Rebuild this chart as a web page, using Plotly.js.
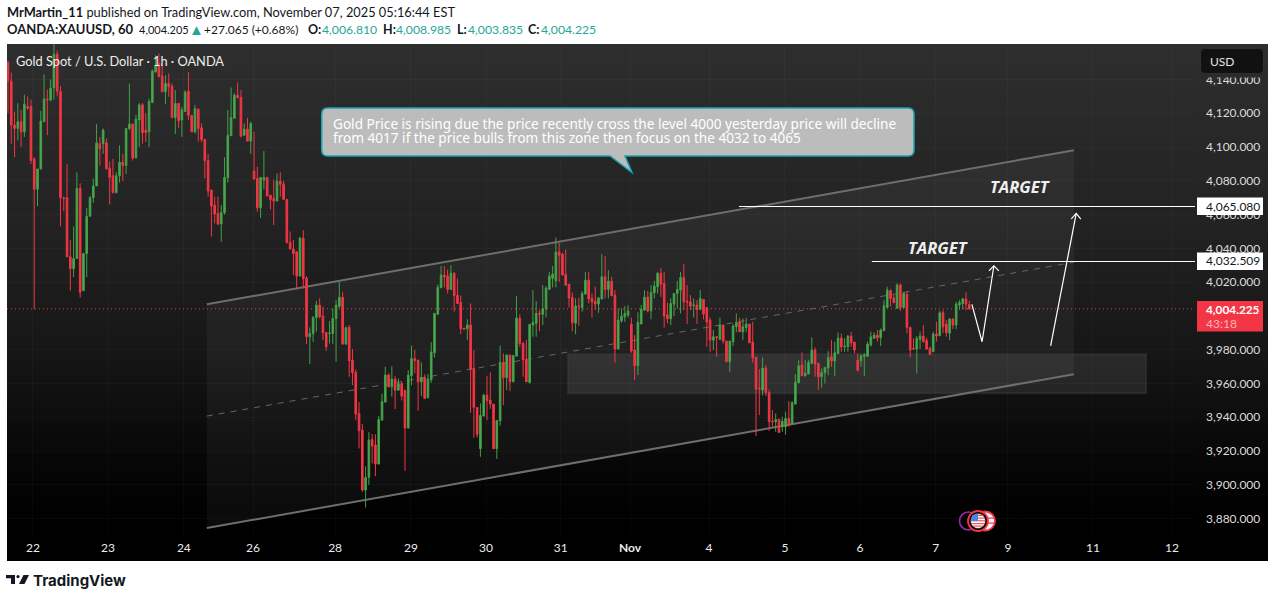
<!DOCTYPE html>
<html>
<head>
<meta charset="utf-8">
<script src="https://cdn.plot.ly/plotly-3.0.1.min.js"></script>
<style>
html,body{margin:0;padding:0;background:#fff;width:1275px;height:599px;overflow:hidden}
#panel{position:absolute;left:7px;top:44px;width:1261px;height:517px;background:linear-gradient(#2e2e2e 0%,#222 35%,#161616 60%,#070707 80%,#000 92%)}
#chart{position:absolute;left:0;top:0;width:1275px;height:599px}
</style>
</head>
<body>
<div id="panel"></div>
<div id="chart"></div>
<script>
const opens=[
4150,4139,4113,4111,4115,4109,4124,4124,4093,4075,
4087,4115,4128.4,4128,4135,4155,4133,4070,4070,4035,
4028,4034,4075.5,4015,4037,4059,4070,4077,4102,4102,
4102.5,4087.5,4083,4073,4083,4091,4089,4111,4113.6,4093.5,
4116,4125,4110,4109,4126.4,4144.5,4149.5,4142,4132.7,4137.6,
4136,4117.5,4125.8,4116,4121,4133,4118.7,4109,4122.4,4111.4,
4104.5,4092,4074.5,4065.6,4060.7,4054.4,4061.1,4081.8,4106.7,4117,
4130.7,4129.4,4107,4110.6,4103.5,4085.8,4081.4,4064,4080.4,4082,
4071.5,4069.6,4068,4079.8,4078,4069,4043.5,4039.6,4038,4023.6,
4046,4022.4,3987.7,3989.6,3999,4006.4,4000,3990.2,3989.6,3989.6,
3998.5,4005.8,4011,3983.3,3993.2,3973.9,3966.6,3942.3,3932.4,3896.9,
3904.4,3926.9,3923.6,3912.3,3938.3,3949,3965,3958,3962.6,3956,
3960,3956,3933.6,3964.6,3974.8,3973.9,3961,3963.6,3951.6,3962.2,
3978.2,4001,4016.7,4024.2,4023.6,4015.7,4025.2,4012.3,4008,3992.8,
3992.4,3994.6,3968.9,3945.8,3921.4,3940.7,3953.1,3950.2,3947.8,3921.4,
3937.9,3972.5,3963.4,3976.8,3961,3976.2,3998.7,3983.7,3974.2,3960.6,
3994.6,3995.6,4001.5,4001,4004.2,4015.7,4022.2,4020.8,4037.8,4036.6,
4024.6,4018.8,4011,3995.6,4005.8,4005,4012.9,4021.2,4010.4,4008.8,
4007,4010,4023.2,4015.7,4020.6,4012.3,3980.4,3997.1,3999.5,4000.5,
3995.2,3979.8,3970.5,3995.2,4003.4,4011.1,4003,4013.7,4017.3,4025.2,
4019.2,4000.5,3998.3,4007,4013.3,4015.3,4022.8,4008.6,4008.4,4006,
4006.4,4003.8,4009.8,4005,3997.5,3985.7,3987.7,3986.1,3994.6,3985.1,
3972.9,3984.7,3993.6,3996.5,3990.6,3993.2,3995.2,3984.5,3975.6,3957.3,
3956.1,3969.1,3954.7,3937.7,3937.3,3938.7,3934.4,3934.4,3939.3,3936,
3947.8,3960.4,3970.9,3964.6,3965.6,3971.9,3979.8,3971.9,3964,3966.4,
3969.1,3975.8,3973.3,3977.8,3986.9,3981.7,3981.7,3988,3984.5,3973.9,
3973.5,3976,3976,3982.8,3986.7,3988.7,3987.1,3991.2,4005,4015,
4010.8,4004.5,4018.3,4005,4012.8,3993.2,3980.8,3980.4,3986.1,3988.1,
3985.4,3980.8,3978.8,3989.3,3988.3,4001.9,3995.2,3989.7,3998.2,3994.6,
4006.5,4007.4,4010,4006.81];
const highs=[
4151,4144,4121,4126,4122,4131,4130,4128,4094,4087,
4121.5,4143,4134,4140,4161,4157,4136,4070.6,4090,4045,
4053,4085,4078.5,4037,4064,4071,4081.4,4113.6,4106,4111,
4105,4091.5,4093,4085,4101,4096,4111,4137.6,4113.6,4119,
4126,4126,4120,4128.6,4146,4154.4,4155.4,4149.5,4142.6,4143.6,
4137.6,4133.7,4125.8,4123.8,4133.7,4144.4,4118.7,4124.8,4122.8,4114,
4104.5,4095.8,4074.5,4070.6,4070.6,4065.6,4093.9,4122,4135.3,4131.7,
4138.2,4133.7,4114,4117.3,4115,4109,4088.3,4082,4097.6,4082,
4071.5,4080.8,4084.4,4085,4080,4069,4050,4044.9,4038,4046.9,
4050.8,4023.6,3993.2,4000,4009,4010.4,4005.4,3990.2,3997,4004.4,
4009.4,4020.2,4014.3,3993.6,3994.6,3980.4,3968.3,3949,3936,3911,
3931.2,3930,3930,3940.7,3954,3969.9,3966,3970.3,3964.4,3963,
3961,3956,3967.9,3982.3,3979.8,3973.9,3972.5,3965.4,3965.6,3984.5,
4001.5,4018.6,4029.5,4029.5,4027.5,4030,4026,4022.2,4012,3992.8,
3998.1,4007.4,3979.8,3945.8,3948.2,3954,3964.4,3966.6,3947.8,3938.1,
3982.5,3977.8,3977.4,3976.8,3976.6,4011.7,4000.9,3984.7,3985.7,3995,
4015.3,4008.8,4003.4,4018.2,4017.7,4026.1,4029.5,4046.5,4043.3,4037.4,
4039.4,4018.8,4013.9,4010.4,4010.8,4014.7,4026.1,4026.1,4013.3,4017.3,
4010.7,4036.6,4035.4,4027.1,4023.2,4015.3,4004.4,4004.4,4005.8,4006.4,
3999,3988.7,4002.1,4006.4,4015.3,4014.7,4018.2,4020.8,4026.1,4028.5,
4026.1,4007.8,4010.4,4013.3,4020.8,4026.1,4030.7,4018.2,4012.3,4010.4,
4009.4,4015.3,4009.8,4005,3999,3991.6,3987.7,3999,3995,3985.1,
3985.1,3995.2,4001.5,3998.9,3998.5,3999,3995.2,3996.5,3975.6,3968.5,
3975.4,3970.9,3956.5,3944.3,3942.3,3939.3,3940.3,3943.3,3949.6,3949.6,
3965.6,3973.8,3978.4,3973.8,3973.8,3987.3,3981.4,3971.9,3968.9,3969.5,
3979.2,3985.7,3984.7,3990.2,3989.6,3986.7,3988.7,3990.6,3984.5,3977.8,
3977.5,3978,3984.8,3990.7,3990.3,3991.7,3992.6,4009.4,4017.3,4015.7,
4012.4,4019.3,4019.3,4014.3,4014.3,3993.6,3986.7,3988.1,3990.7,3994.6,
3987.1,3981.8,3990.7,3996.6,4003,4003.5,3997.6,3998.6,3998.6,4008.4,
4009.4,4010.8,4014,4008.985];
const lows=[
4120,4102,4094,4104,4100,4106,4122,4090,4004,4065,
4087,4115,4107,4127,4128,4130,4053,4062,4035,4015,
4023,4034,4011,4015,4023,4059,4067,4077,4089,4096,
4087,4066,4072.5,4072.5,4079,4080,4084,4110,4092,4093.5,
4100,4102,4103,4100,4126,4144,4141.6,4132.7,4125.4,4129.8,
4117,4107.6,4111.2,4106,4121,4116,4109,4108,4103.3,4103,
4081.4,4070.6,4047,4054.8,4053.8,4043.9,4060,4078.9,4106.7,4117,
4128.8,4105.7,4107,4103.5,4096,4081,4061.7,4058,4075,4071,
4063,4053.8,4068,4070.6,4069,4043.3,4039.6,4024.2,4015.7,4023.6,
4016.3,3983.3,3971.5,3984.7,3990.6,3998.5,3985.7,3979.4,3983.7,3983.3,
3972.9,4004.4,3983.3,3983.3,3964,3959,3938.3,3921.6,3895.9,3886.5,
3899.9,3912.7,3905.2,3912.3,3938.3,3949,3958,3952.2,3944.9,3956,
3950,3908.3,3933.6,3959,3966,3943.9,3952.5,3951.2,3951.2,3960.4,
3975.4,4001,4016.7,4016.9,4013.3,4015.7,4002.5,4007.4,3989.2,3992.2,
3985.7,3942.7,3928,3928,3916.6,3940.7,3938.3,3945,3921.4,3915.3,
3935,3947.2,3956,3955.5,3961,3976.2,3981.7,3964,3961,3960,
3987.7,3987.7,3991,3994.6,3999,4015.7,4016.9,4016.9,4020.2,4024.2,
4018.2,4005,3991,3989.2,3994.2,4002.5,4012.9,4007.4,3998.9,4003.5,
4001.9,4010,4010.4,4010.4,4012,3972.3,3980.4,3996,3996.5,3999,
3978.2,3962,3965,3995.2,4003.4,4002.1,3998,4010.4,4013.3,4011.3,
3993,3995.6,3994.6,3999.9,4004.4,4001.5,4003.5,3995.2,4003.5,3999,
3995.2,4003.8,3998,3981.7,3978.8,3979.8,3975.8,3986.1,3983.7,3972.9,
3966.9,3982.1,3990.4,3990.6,3985.7,3990.6,3984.1,3972.3,3928.9,3941.3,
3953,3952.7,3932,3934.4,3931.4,3930.8,3931.4,3929.7,3934.4,3936,
3947.8,3960.4,3964.6,3964,3965.6,3971.5,3964,3956.1,3957.5,3960,
3965,3969.9,3964.4,3977.8,3978.8,3978.8,3978.8,3981.7,3977.8,3967,
3969.9,3964.4,3975.8,3981.8,3986.7,3984.8,3982.2,3991.2,4005,4005.5,
4007.8,4004.5,4003,4004.5,3989.7,3975.5,3980.4,3966,3980.4,3984.2,
3980,3977.2,3978.8,3984.8,3988.3,3989.7,3987.7,3985.7,3992.2,3992.2,
4003.5,4003.9,4003.5,4003.835];
const closes=[
4139,4113,4111,4115,4109,4125.4,4123,4092,4075,4087,
4115.4,4128.4,4128,4135,4155,4133,4070,4069.5,4035,4028,
4034,4075.5,4014,4037,4059,4070,4077,4102.5,4099,4110,
4087,4082,4073,4083,4091,4089,4111,4113.6,4093.5,4116.5,
4125,4108.5,4108.5,4127,4145,4148,4141.6,4132.7,4137.6,4135.7,
4117.5,4125.8,4115.5,4122,4132.5,4118.7,4109,4122.6,4111,4104.5,
4091.9,4074,4065,4060.3,4054.4,4061.3,4082,4107,4117.5,4130.7,
4129.2,4106.5,4110.6,4103.5,4114,4081,4064,4082,4082,4071,
4069,4068,4079.8,4077.9,4069,4043.3,4039.6,4037,4023.6,4046,
4022,3987.7,3989.6,3999,4006.4,3999.5,3990,3981.7,3989.9,3998.5,
4006.4,4011,3983.3,3993,3973.5,3966.4,3941.9,3932,3896.9,3904.4,
3926.5,3923,3912.3,3938.7,3949.4,3965,3958,3962.6,3956,3960,
3952.5,3933.6,3965,3974.8,3973.5,3961,3963.6,3951.2,3962.6,3978.6,
4001.5,4017,4024.2,4023.2,4015.7,4025.2,4012,4007.4,3992.4,3992.2,
3994.6,3968.5,3945.8,3930,3941.1,3953.1,3949.8,3947.8,3921.4,3938.1,
3972.5,3963.4,3976.8,3961,3976.6,3998.7,3983.7,3973.9,3961,3995,
3996.2,4001.5,4001,4004.2,4016.5,4023.6,4024.8,4037.8,4036,4024.2,
4018.2,4010.6,3996,4005.8,4005.4,4013.3,4021.2,4010,4008.2,4007,
4010.7,4023.2,4015.7,4020.6,4012,3980.4,3997.5,3999.9,4001.5,4002.9,
3979.2,3970.5,3996.2,4004,4011.1,4002.9,4013.9,4017.7,4025.2,4018.8,
3999.9,3998.3,4007.4,4013.3,4015.7,4022.8,4008.4,4008.2,4005.8,4006.4,
4003.8,4010.4,4001.1,3996.3,3985.7,3987.7,3987.3,3994.6,3985.1,3972.9,
3985.1,3994,3996.2,3990.6,3993.6,3995.2,3984.1,3975.2,3956.7,3956.9,
3969.1,3954.7,3937.4,3937.3,3938.7,3931,3937.7,3939.3,3935.4,3948.6,
3960.8,3970.5,3964.6,3966,3972.5,3979.8,3971.5,3964,3966.4,3969.5,
3975.4,3973.3,3978.2,3986.9,3981.7,3982.1,3988,3984.1,3979.8,3967.9,
3976.3,3977,3983.4,3987.7,3988.7,3987.1,3991.7,4006,4015.3,4010.4,
4007.8,4018.3,4005,4013.4,3993.2,3979.8,3980.4,3986.7,3988.1,3984.8,
3980.4,3977.2,3989.3,3988.1,4001.9,3993.6,3990.1,3998.2,3994.6,4007,
4007.8,4010,4007,4004.225];
const bars=opens.map((_,i)=>i);

const dateTickBars=[7.6,30.5,53.6,74.7,99.7,122.8,145.7,168.5,189.6,213.7,236.8,259.7,282.8,304.8,330.7,354.8];
const dateTickLabels=["22","23","24","26","28","29","30","31","<b>Nov</b>","4","5","6","7","9","11","12"];
const priceTicks=[3880,3900,3920,3940,3960,3980,4020,4040,4060,4080,4100,4120,4140];
const priceRange=[3870.3,4161];
const lastPrice=4004.225;
const targetPrices=[4065.08,4032.509];
const targetStartBars=[222.8,263.3];
const channelBars=[60.6,324.9];
const channelTop=[4006.9,4098.1];
const channelMid=[3940.7,4031.8];
const channelBottom=[3874.4,3965.5];
const zoneBars=[170.7,346.9];
const zonePrices=[3954.2,3977.3];
const swingBars=[293.8,296.9,300.5];
const swingPrices=[4006.8,3984.7,4029.7];
const swingHeadBars=[299,300.5,302];
const swingHeadPrices=[4026.7,4029.7,4026.7];
const riseBars=[317.8,325.6];
const risePrices=[3982.3,4060.7];
const riseHeadBars=[324.1,325.6,327];
const riseHeadPrices=[4057.5,4060.7,4057.3];

const W=1275,H=599,L=7,R=1195,T=44,B=535;
const px=x=>(x-L)/(R-L), py=y=>(B-y)/(B-T);
const yPix=p=>T+(priceRange[1]-p)/(priceRange[1]-priceRange[0])*(B-T);
const crisp=p=>py(Math.round(yPix(p))+0.5);
const path=(xs,ys,close)=>xs.map((x,i)=>(i?'L':'M')+x+','+ys[i]).join(' ')+(close?' Z':'');
const dataShape=(d,o)=>Object.assign({type:'path',xref:'x',yref:'y',path:d},o);
const white={color:'#ffffff',width:1.2};
const shapes=[
 dataShape(path([channelBars[0],channelBars[1],channelBars[1],channelBars[0]],[channelTop[0],channelTop[1],channelBottom[1],channelBottom[0]],true),{fillcolor:'rgba(255,255,255,0.045)',line:{width:0},layer:'below'}),
 {type:'rect',xref:'x',yref:'y',x0:zoneBars[0],x1:zoneBars[1],y0:zonePrices[0],y1:zonePrices[1],fillcolor:'rgba(255,255,255,0.085)',line:{color:'rgba(70,70,70,0.35)',width:2},layer:'below'},
 {type:'line',xref:'x',yref:'y',x0:channelBars[0],x1:channelBars[1],y0:channelTop[0],y1:channelTop[1],line:{color:'#6e6e6e',width:2},layer:'below'},
 {type:'line',xref:'x',yref:'y',x0:channelBars[0],x1:channelBars[1],y0:channelBottom[0],y1:channelBottom[1],line:{color:'#6e6e6e',width:2},layer:'below'},
 {type:'line',xref:'x',yref:'y',x0:channelBars[0],x1:channelBars[1],y0:channelMid[0],y1:channelMid[1],line:{color:'#666666',width:1,dash:'6px,6px'},layer:'below'},
 {type:'line',xref:'paper',yref:'y',x0:0,x1:1,y0:lastPrice,y1:lastPrice,line:{color:'#f23645',width:1,dash:'1px,3px'},layer:'below'},
 {type:'line',xref:'x',yref:'paper',x0:targetStartBars[0],x1:362,y0:crisp(targetPrices[0]),y1:crisp(targetPrices[0]),line:{color:'#ffffff',width:1}},
 {type:'line',xref:'x',yref:'paper',x0:targetStartBars[1],x1:362,y0:crisp(targetPrices[1]),y1:crisp(targetPrices[1]),line:{color:'#ffffff',width:1}},
 dataShape(path(swingBars,swingPrices),{line:white}),
 dataShape(path(swingHeadBars,swingHeadPrices),{line:white}),
 dataShape(path(riseBars,risePrices),{line:white}),
 dataShape(path(riseHeadBars,riseHeadPrices),{line:white})
];
/* callout bubble, drawn in page pixels */
const bubble=(()=>{const l=321.7,r=914,t=108,b=156,q=6;
 const P=(x,y)=>px(x)+','+py(y);
 return 'M'+P(l+q,t)+' L'+P(r-q,t)+' Q'+P(r,t)+' '+P(r,t+q)+' L'+P(r,b-q)+' Q'+P(r,b)+' '+P(r-q,b)+
 ' L'+P(625,b)+' L'+P(632,172.5)+' L'+P(610,b)+' L'+P(l+q,b)+' Q'+P(l,b)+' '+P(l,b-q)+' L'+P(l,t+q)+' Q'+P(l,t)+' '+P(l+q,t)+' Z';})();
shapes.push({type:'path',xref:'paper',yref:'paper',path:bubble,fillcolor:'#bcbcbc',line:{color:'#16a5b5',width:1.5}});
const rrect=(l,t,r,b,q)=>{const P=(x,y)=>px(x)+','+py(y);
 return 'M'+P(l+q,t)+' L'+P(r-q,t)+' Q'+P(r,t)+' '+P(r,t+q)+' L'+P(r,b-q)+' Q'+P(r,b)+' '+P(r-q,b)+' L'+P(l+q,b)+' Q'+P(l,b)+' '+P(l,b-q)+' L'+P(l,t+q)+' Q'+P(l,t)+' '+P(l+q,t)+' Z';};
shapes.push({type:'rect',xref:'paper',yref:'paper',x0:px(1198),x1:px(1266),y0:py(77.6),y1:py(73),fillcolor:'#2b2b2b',line:{width:0}});
shapes.push({type:'path',xref:'paper',yref:'paper',path:rrect(1200.5,48.5,1263.5,73.5,5),fillcolor:'#111111',line:{color:'#2f2f2f',width:1}});
shapes.push({type:'rect',xref:'paper',yref:'paper',x0:px(1197),x1:px(1263),y0:py(215),y1:py(197.5),fillcolor:'#ffffff',line:{width:0}});
shapes.push({type:'rect',xref:'paper',yref:'paper',x0:px(1197),x1:px(1263),y0:py(270),y1:py(252.5),fillcolor:'#ffffff',line:{width:0}});
shapes.push({type:'rect',xref:'paper',yref:'paper',x0:px(1197),x1:px(1263),y0:py(331.5),y1:py(301),fillcolor:'#f23645',line:{width:0}});
/* event icons */
const circ=(cx,cy,r,fill,stroke,w)=>({type:'circle',xref:'paper',yref:'paper',x0:px(cx-r),x1:px(cx+r),y0:py(cy+r),y1:py(cy-r),fillcolor:fill,line:{color:stroke,width:w}});
const bar=(x0,x1,y0,c)=>({type:'rect',xref:'paper',yref:'paper',x0:px(x0),x1:px(x1),y0:py(y0+1.2),y1:py(y0),fillcolor:c,line:{width:0}});
shapes.push(circ(968.5,521,9,'#000000','#9c27b0',1.6));
shapes.push(circ(985.5,521,9.5,'#f7f7f7','#f23645',1.8));
shapes.push(bar(980,994,517.5,'#f23645'),bar(980,994,522.5,'#f23645'));
shapes.push(circ(978,521,10,'#000000','#f23645',1.8));
shapes.push(circ(978,521,7.5,'#ffffff','#000000',0.5));
shapes.push(bar(972.5,983.5,514.8,'#f0505a'),bar(971,985,517.5,'#f0505a'),bar(971,985,520.2,'#f0505a'),bar(971,985,523,'#f0505a'),bar(973,983,525.5,'#f0505a'));
shapes.push({type:'path',xref:'paper',yref:'paper',path:'M'+px(970.8)+','+py(521)+' Q'+px(970.8)+','+py(513.8)+' '+px(978)+','+py(513.8)+' L'+px(978)+','+py(521)+' Z',fillcolor:'#3d8be0',line:{width:0}});
/* wordmark glyph */
shapes.push({type:'path',xref:'paper',yref:'paper',path:path([6,15,15,11,11,6].map(px),[575,575,584,584,578.2,578.2].map(py),true),fillcolor:'#131722',line:{width:0}});
shapes.push(circ(18,576.6,1.6,'#131722','#131722',0));
shapes.push({type:'path',xref:'paper',yref:'paper',path:path([23.5,29,24.5,19].map(px),[575,575,584,584].map(py),true),fillcolor:'#131722',line:{width:0}});

const text=(t,x,y,size,color,o)=>Object.assign({xref:'paper',yref:'paper',x:px(x),y:py(y),text:t,showarrow:false,xanchor:'left',yanchor:'middle',borderpad:0,font:{family:'Lato, sans-serif',size:size,color:color}},o||{});
const tealC='#26a69a';
const dark='#131722';
const noto=(s)=>({font:{family:'Noto Sans, sans-serif',size:s,color:'#ffffff'}});
const openb=(s)=>({font:{family:'Open Sans, sans-serif',size:s,color:'#f0f0f0'}});
const annotations=[
 text('<b>MrMartin_11</b> published on TradingView.com, November 07, 2025 05:16:44 EST',6,12,12.8,dark),
 text('<b>OANDA:XAUUSD, 60</b>',6,29,13,dark),
 text('4,004.205',138,29,11,dark),
 text('▲',188,29,15,tealC),
 text('+27.065 (+0.68%)',203,29,12,dark),
 text('<b>O:</b>',307,29,12.5,dark),text('4,006.810',321,29,12.2,tealC),
 text('<b>H:</b>',382,29,12.5,dark),text('4,008.985',395,29,12.2,tealC),
 text('<b>L:</b>',456,29,12.5,dark),text('4,003.835',467,29,12.2,tealC),
 text('<b>C:</b>',527,29,12.5,dark),text('4,004.225',540,29,12.2,tealC),
 text('Gold Spot / U.S. Dollar · 1h · OANDA',15,61,12.8,'#ededed'),
 text('Gold Price is rising due the price recently cross the level 4000 yesterday price will decline',332,123.5,13.6,'#ffffff',noto(13.6)),
 text('from 4017 if the price bulls from this zone then focus on the 4032 to 4065',332,137,13.6,'#ffffff',noto(13.6)),
 text('<b><i>TARGET</i></b>',989,187,16.6,'#f0f0f0',openb(16.6)),
 text('<b><i>TARGET</i></b>',907,247,16.6,'#f0f0f0',openb(16.6)),
 text('4,065.080',1205,206,12,'#131722'),
 text('4,032.509',1205,260.8,12,'#131722'),
 text('<b>4,004.225</b>',1205,309,11.8,'#ffffff'),
 text('43:18',1205,323,12,'#fbb4ba'),
 text('USD',1209,61,12,'#e4e4e4'),
 text('<b>TradingView</b>',32,580,15,'#131722',{font:{family:'Inter, sans-serif',size:15,color:'#131722'}})
];

const trace={type:'candlestick',x:bars,open:opens,high:highs,low:lows,close:closes,
 whiskerwidth:0,width:0.55,hoverinfo:'skip',
 increasing:{line:{color:'#43a047',width:1},fillcolor:'#4caf50'},
 decreasing:{line:{color:'#f23645',width:1},fillcolor:'#f23645'}};
const layout={
 width:W,height:H,margin:{l:L,r:W-R,t:T,b:H-B,pad:0},
 paper_bgcolor:'rgba(0,0,0,0)',plot_bgcolor:'rgba(0,0,0,0)',showlegend:false,
 font:{family:'Lato, sans-serif',color:'#e0e0e0',size:12},
 xaxis:{type:'linear',range:[-0.3,361.8],rangeslider:{visible:false},tickvals:dateTickBars,ticktext:dateTickLabels,tickmode:'array',ticks:'',showline:false,zeroline:false,showgrid:true,gridcolor:'rgba(255,255,255,0.028)',tickfont:{size:12,color:'#ececec',family:'Lato, sans-serif'},ticklabelstandoff:4},
 yaxis:{side:'right',range:priceRange,tickvals:priceTicks,ticktext:priceTicks.map(v=>v.toLocaleString('en-US',{minimumFractionDigits:3})),tickmode:'array',ticks:'',showline:false,zeroline:false,showgrid:true,gridcolor:'rgba(255,255,255,0.028)',tickfont:{size:12,color:'#dcdcdc',family:'Lato, sans-serif'},ticklabelstandoff:10,ticklabelshift:-1.5},
 shapes:shapes,annotations:annotations
};
Plotly.newPlot('chart',[trace],layout,{displayModeBar:false,staticPlot:true});
</script>
</body>
</html>
